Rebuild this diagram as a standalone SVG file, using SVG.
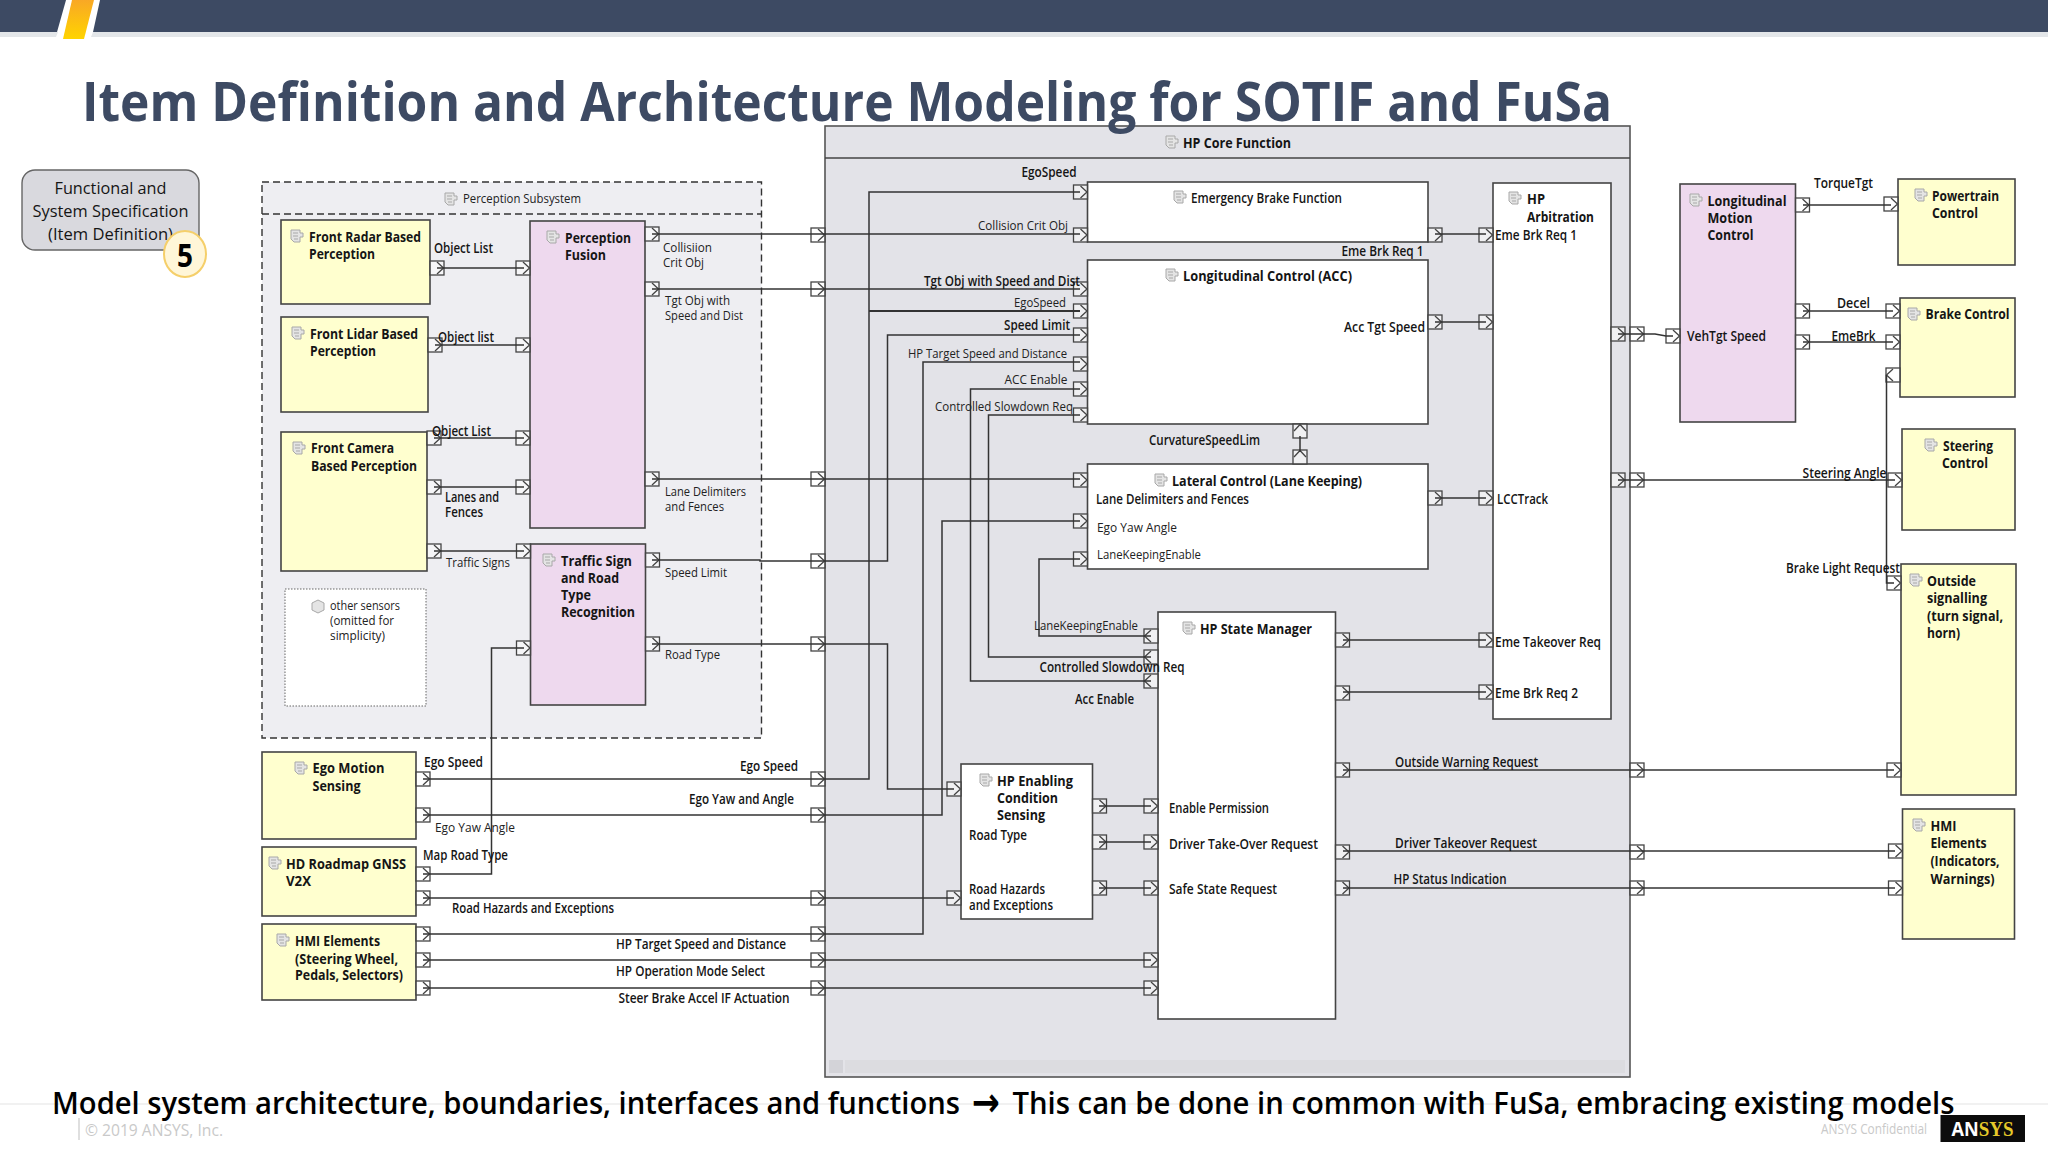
<svg xmlns="http://www.w3.org/2000/svg" width="2048" height="1152" viewBox="0 0 2048 1152">
<style>
text{font-family:"Open Sans","Noto Sans","DejaVu Sans",sans-serif;fill:#151515;font-size:13.5px}
.b{font-weight:700}
.s{font-weight:600}
.r{font-weight:400;fill:#222}
.box{stroke:#444;stroke-width:1.6}
.y{fill:#ffffcf}
.p{fill:#eed9ee}
.w{fill:#fff}
.c{fill:none;stroke:#333;stroke-width:1.5}
.pt{fill:none;stroke:#444;stroke-width:1.3}
.pf{fill:#fff;fill-opacity:.45;stroke:#444;stroke-width:1.3}
.ic{fill:#e4e4e4;stroke:#a8a8a8;stroke-width:1}
</style>
<defs>
<linearGradient id="g1" x1="0" y1="0" x2="0" y2="1"><stop offset="0" stop-color="#f9a825"/><stop offset="1" stop-color="#ffd400"/></linearGradient>
<g id="pr"><rect class="pf" x="0" y="-7" width="14" height="14"/><path class="pt" d="M7,-6 L13.500,0 L7,6"/></g>
<g id="pl"><rect class="pf" x="0" y="-7" width="14" height="14"/><path class="pt" d="M7,-6 L0.500,0 L7,6"/></g>
<g id="pu"><rect class="pf" x="-7" y="0" width="14" height="14"/><path class="pt" d="M-6,7 L0,0.500 L6,7"/></g>
<g id="ic"><path class="ic" d="M0,0 H9 V3 H12 V7 H9 V12 H3 L0,9 Z"/><path class="ic" d="M2,3 H7 M2,6 H7 M3,9 H7" fill="none"/></g>
</defs>
<rect width="2048" height="1152" fill="#fff"/>
<g id="slide-header">
<path d="M0,32 H58 L56,37 H0 Z M93,32 H2048 V37 H91 Z" fill="#e3e6e9"/>
<path d="M0,0 H66 L57,32 H0 Z" fill="#3d4a63"/>
<path d="M100,0 H2048 V32 H93 Z" fill="#3d4a63"/>
<path d="M72,0 H94 L84,39 H63 Z" fill="url(#g1)"/>
</g>
<g id="spec-note">
<rect x="22" y="170" width="177" height="80" rx="13" fill="#d9d9de" stroke="#666" stroke-width="1.4"/>
<text x="110.500" y="194" text-anchor="middle" style="font-size:17px" textLength="112" lengthAdjust="spacingAndGlyphs">Functional and</text>
<text x="110.500" y="217" text-anchor="middle" style="font-size:17px" textLength="156" lengthAdjust="spacingAndGlyphs">System Specification</text>
<text x="110.500" y="240" text-anchor="middle" style="font-size:17px" textLength="125" lengthAdjust="spacingAndGlyphs">(Item Definition)</text>
<ellipse cx="185" cy="254" rx="21" ry="23" fill="#fff6d8" stroke="#f5cf6a" stroke-width="2"/>
<text x="185" y="267" text-anchor="middle" class="b" style="font-size:32px;fill:#000" textLength="16" lengthAdjust="spacingAndGlyphs">5</text>
</g>

<g id="hp-core-function">
<rect x="825" y="126" width="805" height="951" fill="#e3e3e8" stroke="#555" stroke-width="1.6"/>
<path d="M825,158 H1630" stroke="#444" stroke-width="1.6"/>
<rect x="829" y="1060" width="14" height="13" fill="#d3d3d8"/>
<rect x="845" y="1060" width="780" height="13" fill="#dcdce0"/>
<use href="#ic" x="1166" y="136"/>
<text x="1183" y="148" class="b" textLength="108" lengthAdjust="spacingAndGlyphs">HP Core Function</text>
</g>
<g id="perception-subsystem">
<rect x="262" y="182" width="499.500" height="556" fill="#eeeef2" stroke="#333" stroke-width="1.4" stroke-dasharray="7 4"/>
<path d="M262,214 H761.500" stroke="#333" stroke-width="1.4" stroke-dasharray="7 4"/>
<use href="#ic" x="445" y="193"/>
<text x="463" y="203" class="r" textLength="118" lengthAdjust="spacingAndGlyphs">Perception Subsystem</text>
</g>

<g id="front-radar"><rect class="box y" x="281" y="220" width="149" height="84"/><use href="#ic" x="291" y="230"/>
<text x="309" y="242" class="b" textLength="112" lengthAdjust="spacingAndGlyphs">Front Radar Based</text><text x="309" y="259" class="b" textLength="66" lengthAdjust="spacingAndGlyphs">Perception</text></g>
<g id="front-lidar"><rect class="box y" x="281" y="317" width="147" height="95"/><use href="#ic" x="292" y="327"/>
<text x="310" y="339" class="b" textLength="108" lengthAdjust="spacingAndGlyphs">Front Lidar Based</text><text x="310" y="356" class="b" textLength="66" lengthAdjust="spacingAndGlyphs">Perception</text></g>
<g id="front-camera"><rect class="box y" x="281" y="432" width="146" height="139"/><use href="#ic" x="293" y="442"/>
<text x="311" y="453" class="b" textLength="83" lengthAdjust="spacingAndGlyphs">Front Camera</text><text x="311" y="471" class="b" textLength="106" lengthAdjust="spacingAndGlyphs">Based Perception</text></g>
<g id="perception-fusion"><rect class="box p" x="530" y="221" width="115" height="307"/><use href="#ic" x="547" y="231"/>
<text x="565" y="243" class="b" textLength="66" lengthAdjust="spacingAndGlyphs">Perception</text><text x="565" y="260" class="b" textLength="41" lengthAdjust="spacingAndGlyphs">Fusion</text></g>
<g id="traffic-sign"><rect class="box p" x="530.500" y="544" width="115" height="161"/><use href="#ic" x="543" y="554"/>
<text x="561" y="566" class="b" textLength="71" lengthAdjust="spacingAndGlyphs">Traffic Sign</text><text x="561" y="583" class="b" textLength="58" lengthAdjust="spacingAndGlyphs">and Road</text><text x="561" y="600" class="b" textLength="30" lengthAdjust="spacingAndGlyphs">Type</text><text x="561" y="617" class="b" textLength="74" lengthAdjust="spacingAndGlyphs">Recognition</text></g>
<g id="other-sensors"><rect x="285" y="589" width="141" height="117" fill="#fff" stroke="#666" stroke-width="1" stroke-dasharray="1.500 1.500"/><path d="M318,600 l6,3 v7 l-6,3 l-6,-3 v-7 Z" class="ic"/>
<text x="330" y="610" class="r" textLength="70" lengthAdjust="spacingAndGlyphs">other sensors</text><text x="330" y="625" class="r" textLength="64" lengthAdjust="spacingAndGlyphs">(omitted for</text><text x="330" y="640" class="r" textLength="55" lengthAdjust="spacingAndGlyphs">simplicity)</text></g>
<g id="ego-motion"><rect class="box y" x="262" y="752" width="154" height="87"/><use href="#ic" x="295" y="762"/>
<text x="312.500" y="773" class="b" textLength="72" lengthAdjust="spacingAndGlyphs">Ego Motion</text><text x="312.500" y="791" class="b" textLength="48" lengthAdjust="spacingAndGlyphs">Sensing</text></g>
<g id="hd-roadmap"><rect class="box y" x="262" y="847" width="154" height="69"/><use href="#ic" x="269" y="857"/>
<text x="286" y="869" class="b" textLength="120" lengthAdjust="spacingAndGlyphs">HD Roadmap GNSS</text><text x="286" y="886" class="b" textLength="25" lengthAdjust="spacingAndGlyphs">V2X</text></g>
<g id="hmi-elements-in"><rect class="box y" x="262" y="924" width="154" height="76"/><use href="#ic" x="277" y="934"/>
<text x="295" y="946" class="b" textLength="85" lengthAdjust="spacingAndGlyphs">HMI Elements</text><text x="295" y="964" class="b" textLength="103" lengthAdjust="spacingAndGlyphs">(Steering Wheel,</text><text x="295" y="980" class="b" textLength="108" lengthAdjust="spacingAndGlyphs">Pedals, Selectors)</text></g>

<g id="emergency-brake"><rect class="box w" x="1087.500" y="182" width="340.500" height="60"/><use href="#ic" x="1174" y="191"/>
<text x="1191" y="203" class="s" textLength="151" lengthAdjust="spacingAndGlyphs">Emergency Brake Function</text></g>
<g id="longitudinal-control"><rect class="box w" x="1087.500" y="260" width="340.500" height="164"/><use href="#ic" x="1166" y="269"/>
<text x="1183" y="281" class="b" textLength="169" lengthAdjust="spacingAndGlyphs">Longitudinal Control (ACC)</text><text x="1344" y="332" class="s" textLength="81" lengthAdjust="spacingAndGlyphs">Acc Tgt Speed</text></g>
<g id="lateral-control"><rect class="box w" x="1087.500" y="464" width="340.500" height="105"/><use href="#ic" x="1155" y="474"/>
<text x="1172" y="486" class="b" textLength="190" lengthAdjust="spacingAndGlyphs">Lateral Control (Lane Keeping)</text>
<text x="1096" y="504" class="s" textLength="153" lengthAdjust="spacingAndGlyphs">Lane Delimiters and Fences</text><text x="1097" y="532" class="r" textLength="80" lengthAdjust="spacingAndGlyphs">Ego Yaw Angle</text><text x="1097" y="559" class="r" textLength="104" lengthAdjust="spacingAndGlyphs">LaneKeepingEnable</text></g>
<g id="hp-arbitration"><rect class="box w" x="1493" y="183" width="118" height="536"/><use href="#ic" x="1509" y="192"/>
<text x="1527" y="204" class="b" textLength="18" lengthAdjust="spacingAndGlyphs">HP</text><text x="1527" y="222" class="b" textLength="67" lengthAdjust="spacingAndGlyphs">Arbitration</text>
<text x="1495" y="240" class="s" textLength="82" lengthAdjust="spacingAndGlyphs">Eme Brk Req 1</text><text x="1497" y="504" class="s" textLength="51" lengthAdjust="spacingAndGlyphs">LCCTrack</text><text x="1495" y="647" class="s" textLength="106" lengthAdjust="spacingAndGlyphs">Eme Takeover Req</text><text x="1495" y="698" class="s" textLength="83" lengthAdjust="spacingAndGlyphs">Eme Brk Req 2</text></g>
<g id="hp-state-manager"><rect class="box w" x="1158" y="612" width="177.500" height="407"/><use href="#ic" x="1183" y="622"/>
<text x="1200" y="634" class="b" textLength="112" lengthAdjust="spacingAndGlyphs">HP State Manager</text>
<text x="1169" y="813" class="s" textLength="100" lengthAdjust="spacingAndGlyphs">Enable Permission</text><text x="1169" y="849" class="s" textLength="149" lengthAdjust="spacingAndGlyphs">Driver Take-Over Request</text><text x="1169" y="894" class="s" textLength="108" lengthAdjust="spacingAndGlyphs">Safe State Request</text></g>
<g id="hp-enabling"><rect class="box w" x="961" y="764" width="131.500" height="155"/><use href="#ic" x="980" y="774"/>
<text x="997" y="786" class="b" textLength="76" lengthAdjust="spacingAndGlyphs">HP Enabling</text><text x="997" y="803" class="b" textLength="61" lengthAdjust="spacingAndGlyphs">Condition</text><text x="997" y="820" class="b" textLength="48" lengthAdjust="spacingAndGlyphs">Sensing</text>
<text x="969" y="840" class="s" textLength="58" lengthAdjust="spacingAndGlyphs">Road Type</text><text x="969" y="894" class="s" textLength="76" lengthAdjust="spacingAndGlyphs">Road Hazards</text><text x="969" y="910" class="s" textLength="84" lengthAdjust="spacingAndGlyphs">and Exceptions</text></g>

<g id="longitudinal-motion"><rect class="box p" x="1680" y="184" width="115.500" height="238"/><use href="#ic" x="1690" y="194"/>
<text x="1707.500" y="206" class="b" textLength="79" lengthAdjust="spacingAndGlyphs">Longitudinal</text><text x="1707.500" y="223" class="b" textLength="45" lengthAdjust="spacingAndGlyphs">Motion</text><text x="1707.500" y="240" class="b" textLength="46" lengthAdjust="spacingAndGlyphs">Control</text><text x="1687" y="341" class="s" textLength="79" lengthAdjust="spacingAndGlyphs">VehTgt Speed</text></g>
<g id="powertrain"><rect class="box y" x="1898" y="179" width="117" height="86"/><use href="#ic" x="1915" y="189"/>
<text x="1932" y="201" class="b" textLength="67" lengthAdjust="spacingAndGlyphs">Powertrain</text><text x="1932" y="218" class="b" textLength="46" lengthAdjust="spacingAndGlyphs">Control</text></g>
<g id="brake-control"><rect class="box y" x="1900" y="298" width="115" height="99"/><use href="#ic" x="1908" y="308"/>
<text x="1925.500" y="319" class="b" textLength="84" lengthAdjust="spacingAndGlyphs">Brake Control</text></g>
<g id="steering-control"><rect class="box y" x="1902" y="429" width="113" height="101"/><use href="#ic" x="1925" y="439"/>
<text x="1943" y="451" class="b" textLength="50" lengthAdjust="spacingAndGlyphs">Steering</text><text x="1942" y="468" class="b" textLength="46" lengthAdjust="spacingAndGlyphs">Control</text></g>
<g id="outside-signalling"><rect class="box y" x="1901" y="564" width="115" height="231"/><use href="#ic" x="1910" y="574"/>
<text x="1927" y="586" class="b" textLength="49" lengthAdjust="spacingAndGlyphs">Outside</text><text x="1927" y="603" class="b" textLength="60" lengthAdjust="spacingAndGlyphs">signalling</text><text x="1927" y="621" class="b" textLength="76" lengthAdjust="spacingAndGlyphs">(turn signal,</text><text x="1927" y="638" class="b" textLength="33" lengthAdjust="spacingAndGlyphs">horn)</text></g>
<g id="hmi-elements-out"><rect class="box y" x="1902.500" y="809" width="112" height="130"/><use href="#ic" x="1913" y="819"/>
<text x="1930.500" y="831" class="b" textLength="26" lengthAdjust="spacingAndGlyphs">HMI</text><text x="1930.500" y="848" class="b" textLength="56" lengthAdjust="spacingAndGlyphs">Elements</text><text x="1930.500" y="866" class="b" textLength="69" lengthAdjust="spacingAndGlyphs">(Indicators,</text><text x="1930.500" y="884" class="b" textLength="64" lengthAdjust="spacingAndGlyphs">Warnings)</text></g>

<g id="connectors">
<use href="#pr" x="430" y="268"/><use href="#pr" x="516" y="268"/>
<use href="#pr" x="428" y="345"/><use href="#pr" x="516" y="345"/>
<use href="#pr" x="427" y="438"/><use href="#pr" x="516" y="438"/>
<use href="#pr" x="427" y="487"/><use href="#pr" x="516" y="487"/>
<use href="#pr" x="427" y="551"/><use href="#pr" x="516.500" y="551"/>
<use href="#pr" x="516.500" y="648"/>
<use href="#pr" x="645" y="234"/><use href="#pr" x="645" y="289"/><use href="#pr" x="645" y="479"/>
<use href="#pr" x="645.500" y="560"/><use href="#pr" x="645.500" y="644"/>
<use href="#pr" x="811" y="235"/><use href="#pr" x="811" y="289"/><use href="#pr" x="811" y="479"/><use href="#pr" x="811" y="561"/><use href="#pr" x="811" y="644"/>
<use href="#pr" x="811" y="779"/><use href="#pr" x="811" y="815"/><use href="#pr" x="811" y="898"/><use href="#pr" x="811" y="934"/><use href="#pr" x="811" y="960"/><use href="#pr" x="811" y="988"/>
<use href="#pr" x="416" y="779"/><use href="#pr" x="416" y="815"/><use href="#pr" x="416" y="874"/><use href="#pr" x="416" y="898"/><use href="#pr" x="416" y="934"/><use href="#pr" x="416" y="960"/><use href="#pr" x="416" y="988"/>
<use href="#pr" x="1073.500" y="192"/><use href="#pr" x="1073.500" y="235"/>
<use href="#pr" x="1073.500" y="289"/><use href="#pr" x="1073.500" y="311"/><use href="#pr" x="1073.500" y="335"/><use href="#pr" x="1073.500" y="364"/><use href="#pr" x="1073.500" y="389"/><use href="#pr" x="1073.500" y="415"/>
<use href="#pr" x="1073.500" y="480"/><use href="#pr" x="1073.500" y="521"/><use href="#pr" x="1073.500" y="559"/>
<use href="#pr" x="1428" y="235"/><use href="#pr" x="1428" y="322"/><use href="#pr" x="1428" y="498"/>
<use href="#pr" x="1479" y="235"/><use href="#pr" x="1479" y="322"/><use href="#pr" x="1479" y="498"/><use href="#pr" x="1479" y="640"/><use href="#pr" x="1479" y="692"/>
<use href="#pu" x="1300" y="424"/><use href="#pu" x="1300" y="450"/>
<use href="#pl" x="1144" y="636"/><use href="#pl" x="1144" y="657"/><use href="#pl" x="1144" y="681"/>
<use href="#pr" x="947" y="789"/><use href="#pr" x="947" y="898"/>
<use href="#pr" x="1092.500" y="806"/><use href="#pr" x="1092.500" y="842"/><use href="#pr" x="1092.500" y="888"/>
<use href="#pr" x="1144" y="806"/><use href="#pr" x="1144" y="842"/><use href="#pr" x="1144" y="888"/><use href="#pr" x="1144" y="960"/><use href="#pr" x="1144" y="988"/>
<use href="#pr" x="1335.500" y="640"/><use href="#pr" x="1335.500" y="693"/><use href="#pr" x="1335.500" y="770"/><use href="#pr" x="1335.500" y="852"/><use href="#pr" x="1335.500" y="888"/>
<use href="#pr" x="1630" y="770"/><use href="#pr" x="1630" y="852"/><use href="#pr" x="1630" y="888"/>
<use href="#pr" x="1887" y="770"/><use href="#pr" x="1888.500" y="851"/><use href="#pr" x="1888.500" y="888"/>
<use href="#pr" x="1611" y="334"/><use href="#pr" x="1630" y="334"/><use href="#pr" x="1666" y="336"/>
<use href="#pr" x="1611" y="480"/><use href="#pr" x="1630" y="480"/><use href="#pr" x="1888" y="480"/>
<use href="#pr" x="1795.500" y="205"/><use href="#pr" x="1884" y="204"/>
<use href="#pr" x="1795.500" y="311"/><use href="#pr" x="1886" y="311"/>
<use href="#pr" x="1795.500" y="342"/><use href="#pr" x="1886" y="342"/>
<use href="#pl" x="1886" y="375"/><use href="#pr" x="1887" y="583"/>
<path class="c" d="M437,268 H524"/>
<path class="c" d="M435,345 H524"/>
<path class="c" d="M434,438 H524"/>
<path class="c" d="M434,487 H524"/>
<path class="c" d="M434,551 H524"/>
<path class="c" d="M423,874 H491.500 V648 H524"/>
<path class="c" d="M652,234 H1080"/>
<path class="c" d="M652,289 H1080"/>
<path class="c" d="M652,479 H1080"/>
<path class="c" d="M652,560 H760 V561 H887.500 V335 H1080"/>
<path class="c" d="M652,644 H887.500 V789 H954"/>
<path class="c" d="M423,779 H869 V192 H1080"/>
<path class="c" d="M869,311 H1080" style="stroke-width:1.8"/>
<path class="c" d="M423,815 H942 V521 H1080"/>
<path class="c" d="M423,898 H954"/>
<path class="c" d="M423,934 H923 V362 H1080"/>
<path class="c" d="M423,960 H1151"/>
<path class="c" d="M423,988 H1151"/>
<path class="c" d="M1151,681 H970.500 V389 H1080"/>
<path class="c" d="M1151,657 H988.500 V415 H1080"/>
<path class="c" d="M1151,636 H1039 V559 H1080"/>
<path class="c" d="M1300,452 V436"/>
<path class="c" d="M1435,234 H1486"/>
<path class="c" d="M1435,322 H1486"/>
<path class="c" d="M1435,498 H1486"/>
<path class="c" d="M1343,640 H1486"/>
<path class="c" d="M1343,692 H1486"/>
<path class="c" d="M1343,770 H1894"/>
<path class="c" d="M1343,851 H1895"/>
<path class="c" d="M1343,888 H1895"/>
<path class="c" d="M1099,806 H1151"/>
<path class="c" d="M1099,842 H1151"/>
<path class="c" d="M1099,888 H1151"/>
<path class="c" d="M1618,334 H1645 L1655,334 L1666,336 H1673"/>
<path class="c" d="M1618,480 H1895"/>
<path class="c" d="M1803,205 H1891"/>
<path class="c" d="M1803,311 H1893"/>
<path class="c" d="M1803,342 H1893"/>
<path class="c" d="M1886.500,375 V583 H1894"/>
<text x="434" y="253" class="s" textLength="59" lengthAdjust="spacingAndGlyphs">Object List</text>
<text x="438" y="342" class="s" textLength="56" lengthAdjust="spacingAndGlyphs">Object list</text>
<text x="432" y="436" class="s" textLength="59" lengthAdjust="spacingAndGlyphs">Object List</text>
<text x="445" y="502" class="s" textLength="54" lengthAdjust="spacingAndGlyphs">Lanes and</text><text x="445" y="517" class="s" textLength="38" lengthAdjust="spacingAndGlyphs">Fences</text>
<text x="446" y="567" class="r" textLength="64" lengthAdjust="spacingAndGlyphs">Traffic Signs</text>
<text x="663" y="252" class="r" textLength="49" lengthAdjust="spacingAndGlyphs">Collisiion</text><text x="663" y="267" class="r" textLength="41" lengthAdjust="spacingAndGlyphs">Crit Obj</text>
<text x="665" y="305" class="r" textLength="65" lengthAdjust="spacingAndGlyphs">Tgt Obj with</text><text x="665" y="320" class="r" textLength="78" lengthAdjust="spacingAndGlyphs">Speed and Dist</text>
<text x="665" y="496" class="r" textLength="81" lengthAdjust="spacingAndGlyphs">Lane Delimiters</text><text x="665" y="511" class="r" textLength="59" lengthAdjust="spacingAndGlyphs">and Fences</text>
<text x="665" y="577" class="r" textLength="62" lengthAdjust="spacingAndGlyphs">Speed Limit</text>
<text x="665" y="659" class="r" textLength="55" lengthAdjust="spacingAndGlyphs">Road Type</text>
<text x="424" y="767" class="s" textLength="59" lengthAdjust="spacingAndGlyphs">Ego Speed</text>
<text x="740" y="771" class="s" textLength="58" lengthAdjust="spacingAndGlyphs">Ego Speed</text>
<text x="689" y="804" class="s" textLength="105" lengthAdjust="spacingAndGlyphs">Ego Yaw and Angle</text>
<text x="435" y="832" class="r" textLength="80" lengthAdjust="spacingAndGlyphs">Ego Yaw Angle</text>
<text x="423" y="860" class="s" textLength="85" lengthAdjust="spacingAndGlyphs">Map Road Type</text>
<text x="452" y="913" class="s" textLength="162" lengthAdjust="spacingAndGlyphs">Road Hazards and Exceptions</text>
<text x="616" y="949" class="s" textLength="170" lengthAdjust="spacingAndGlyphs">HP Target Speed and Distance</text>
<text x="616" y="976" class="s" textLength="149" lengthAdjust="spacingAndGlyphs">HP Operation Mode Select</text>
<text x="618.500" y="1003" class="s" textLength="171" lengthAdjust="spacingAndGlyphs">Steer Brake Accel IF Actuation</text>
<text x="1021.500" y="177" class="s" textLength="55" lengthAdjust="spacingAndGlyphs">EgoSpeed</text>
<text x="978" y="230" class="r" textLength="90" lengthAdjust="spacingAndGlyphs">Collision Crit Obj</text>
<text x="1341.500" y="256" class="s" textLength="82" lengthAdjust="spacingAndGlyphs">Eme Brk Req 1</text>
<text x="924" y="286" class="s" textLength="156" lengthAdjust="spacingAndGlyphs">Tgt Obj with Speed and Dist</text>
<text x="1014" y="307" class="r" textLength="52" lengthAdjust="spacingAndGlyphs">EgoSpeed</text>
<text x="1004" y="330" class="s" textLength="66" lengthAdjust="spacingAndGlyphs">Speed Limit</text>
<text x="908" y="358" class="r" textLength="159" lengthAdjust="spacingAndGlyphs">HP Target Speed and Distance</text>
<text x="1004.500" y="384" class="r" textLength="63" lengthAdjust="spacingAndGlyphs">ACC Enable</text>
<text x="935" y="411" class="r" textLength="138" lengthAdjust="spacingAndGlyphs">Controlled Slowdown Req</text>
<text x="1149" y="445" class="s" textLength="111" lengthAdjust="spacingAndGlyphs">CurvatureSpeedLim</text>
<text x="1034" y="630" class="r" textLength="104" lengthAdjust="spacingAndGlyphs">LaneKeepingEnable</text>
<text x="1039.500" y="672" class="s" textLength="145" lengthAdjust="spacingAndGlyphs">Controlled Slowdown Req</text>
<text x="1075" y="704" class="s" textLength="59" lengthAdjust="spacingAndGlyphs">Acc Enable</text>
<text x="1395" y="767" class="s" textLength="143" lengthAdjust="spacingAndGlyphs">Outside Warning Request</text>
<text x="1395" y="848" class="s" textLength="142" lengthAdjust="spacingAndGlyphs">Driver Takeover Request</text>
<text x="1393.500" y="884" class="s" textLength="113" lengthAdjust="spacingAndGlyphs">HP Status Indication</text>
<text x="1814" y="188" class="s" textLength="59" lengthAdjust="spacingAndGlyphs">TorqueTgt</text>
<text x="1837" y="308" class="s" textLength="33" lengthAdjust="spacingAndGlyphs">Decel</text>
<text x="1831.500" y="341" class="s" textLength="44" lengthAdjust="spacingAndGlyphs">EmeBrk</text>
<text x="1802.500" y="478" class="s" textLength="84" lengthAdjust="spacingAndGlyphs">Steering Angle</text>
<text x="1786" y="573" class="s" textLength="114" lengthAdjust="spacingAndGlyphs">Brake Light Request</text>
</g>

<g id="slide-footer">
<path d="M0,1104 H2048" stroke="#ececec" stroke-width="1.5"/>
<path d="M79,1118 V1140" stroke="#d4d4d4" stroke-width="1.5"/>
<text x="85" y="1136" style="font-size:16px;fill:#c9c9c9" textLength="138" lengthAdjust="spacingAndGlyphs">© 2019 ANSYS, Inc.</text>
<text x="1821" y="1134" style="font-size:14.500px;fill:#c9c9c9" textLength="106" lengthAdjust="spacingAndGlyphs">ANSYS Confidential</text>
<rect x="1940.500" y="1115" width="84.500" height="27" fill="#0c0c0c"/>
<text x="1951.500" y="1136" class="b" style="font-size:20px;fill:#fff" textLength="62" lengthAdjust="spacingAndGlyphs">AN<tspan style="font-family:'Liberation Serif',serif;font-size:21px;fill:#e6c92a">SYS</tspan></text>
<text x="52" y="1114" class="s" style="font-size:31px;fill:#000" textLength="908" lengthAdjust="spacingAndGlyphs">Model system architecture, boundaries, interfaces and functions</text>
<text x="972" y="1116" class="b" style="font-family:'DejaVu Sans',sans-serif;font-size:40px;fill:#000" textLength="28" lengthAdjust="spacingAndGlyphs">→</text>
<text x="1012.500" y="1114" class="s" style="font-size:31px;fill:#000" textLength="942" lengthAdjust="spacingAndGlyphs">This can be done in common with FuSa, embracing existing models</text>
<text x="82" y="121" class="b" style="font-size:53px;fill:#3d4a63" textLength="1530" lengthAdjust="spacingAndGlyphs">Item Definition and Architecture Modeling for SOTIF and FuSa</text>
</g>
</svg>
